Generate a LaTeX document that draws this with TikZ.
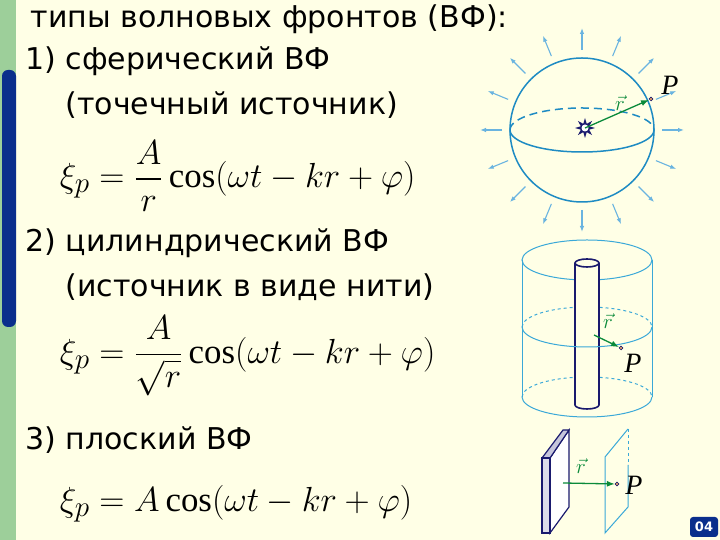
\documentclass[tikz,border=0pt]{standalone}
\usepackage{fontspec}
\usepackage{amsmath}
\setmainfont{DejaVu Sans}
\newfontfamily\pfont{Liberation Serif}[Scale=1]
\usetikzlibrary{arrows.meta,calc}
\definecolor{bg}{HTML}{FFFFE6}
\definecolor{strip}{HTML}{9DCF9A}
\definecolor{bar}{HTML}{0A2E8C}
\definecolor{sph}{HTML}{1E8BC3}
\definecolor{cyl}{HTML}{3AA8D8}
\definecolor{ray}{HTML}{6AB4E0}
\definecolor{grn}{HTML}{0A8A3A}
\definecolor{navy}{HTML}{1A1A6E}
\newcommand{\mycos}{\mathop{\text{\pfont cos}}\nolimits}
\tikzset{
 txt/.style={anchor=base west,font=\fontsize{30}{34}\selectfont},
 frm/.style={anchor=west,font=\fontsize{24.88}{28}\selectfont,scale=1.4,transform shape},
 lab/.style={font=\fontsize{28}{30}\selectfont\pfont\itshape},
 rlab/.style={text=grn,font=\fontsize{17.28}{20}\selectfont,scale=1.2,transform shape},
 arr/.style={grn,line width=1.3pt,-{Latex[length=8pt]}},
 pdot/.style={circle,draw=navy,fill=orange!60,inner sep=1.3pt,line width=0.6pt},
 sline/.style={sph,line width=1.5pt},
 cline/.style={cyl,line width=1pt},
}
\begin{document}
\begin{tikzpicture}[x=1pt,y=1pt]
\fill[bg] (0,0) rectangle (720,540);
\fill[strip] (0,0) rectangle (16,540);
\fill[bar,rounded corners=6pt] (2,213) rectangle (16,470);
% texts
\node[txt] (t0) at (27,512) {типы волновых фронтов (ВФ):};
\node[txt] (t1) at (22,470) {1) сферический ВФ};
\node[txt] (t2) at (62,425) {(точечный источник)};
\node[frm] (f1) at (55,364) {$\xi_p=\dfrac{A}{r}\mycos(\omega t-kr+\varphi)$};
\node[txt] (t3) at (22,288) {2) цилиндрический ВФ};
\node[txt] (t4) at (62,243) {(источник в виде нити)};
\node[frm] (f2) at (55,184) {$\xi_p=\dfrac{A}{\sqrt{r}}\mycos(\omega t-kr+\varphi)$};
\node[txt] (t5) at (22,90) {3) плоский ВФ};
\node[frm] (f3) at (55,36) {$\xi_p=A\mycos(\omega t-kr+\varphi)$};
% sphere
\coordinate (sc) at (582,410);
\foreach \a in {0,22.5,...,337.5}
  \draw[ray,line width=1.1pt,-{Latex[length=6pt]}] ($(sc)+(\a:80)$) -- ($(sc)+(\a:102)$);
\draw[sline] (sc) circle[radius=72];
\draw[sline] (510,410) arc[start angle=180,end angle=360,x radius=72,y radius=22];
\draw[sline,dash pattern=on 8pt off 5pt] (510,410) arc[start angle=180,end angle=0,x radius=72,y radius=22];
\coordinate (src) at (585,412);
\begin{scope}[shift={(585,412)}]
\fill[navy] plot[samples at={0,...,16}] (\x*22.5:{ifthenelse(mod(\x,2)==1,4.5,10)}) -- cycle;
\fill[white] (0,0) circle[radius=3.5];
\end{scope}
\node[pdot] (p1) at (651,441) {};
\draw[arr] (src) -- (p1);
\node[lab] (P1) at (670,455) {P};
\node[rlab] (r1) at (620,437) {$\vec r$};
% cylinder
\draw[cline] (587,280) ellipse[x radius=65,y radius=20];
\draw[cline] (522,280) -- (522,143);
\draw[cline] (652,280) -- (652,143);
\draw[cline,dashed] (522,213) arc[start angle=180,end angle=0,x radius=65,y radius=20];
\draw[cline,dashed] (522,143) arc[start angle=180,end angle=0,x radius=65,y radius=20];
\draw[navy,line width=1.6pt,fill=bg] (575,277) -- (575,135) arc[start angle=180,end angle=360,x radius=12,y radius=4] -- (599,277);
\draw[navy,line width=1.6pt,fill=bg] (587,277) ellipse[x radius=12,y radius=4];
\draw[cline] (522,213) arc[start angle=180,end angle=360,x radius=65,y radius=20];
\draw[cline] (522,143) arc[start angle=180,end angle=360,x radius=65,y radius=20];
\node[pdot] (p2) at (621,192) {};
\coordinate (c2) at (594,205);
\draw[arr] (c2) -- (p2);
\node[lab] (P2) at (633,177) {P};
\node[rlab] (r2) at (608,219) {$\vec r$};
% plane
\draw[navy,line width=1.2pt,fill=white] (550,82) -- (569,110) -- (569,33) -- (550,7) -- cycle;
\draw[navy,line width=1.2pt,fill=navy!25] (542,82) -- (563,110) -- (569,110) -- (550,82) -- cycle;
\draw[navy,line width=1.2pt,fill=navy!15] (542,82) -- (550,82) -- (550,7) -- (542,7) -- cycle;
\draw[cline] (628,75) -- (628,33) -- (605,7) -- (605,83) -- (628,111);
\draw[cline,dashed] (628,111) -- (628,75);
\node[pdot] (p3) at (617,56) {};
\coordinate (c3) at (563,57);
\draw[arr] (c3) -- (p3);
\node[lab] (P3) at (634,55) {P};
\node[rlab] (r3) at (581,74) {$\vec r$};
% badge
\node[fill=bar,rounded corners=3pt,text=white,font=\bfseries\fontsize{13}{14}\selectfont,inner sep=2pt,minimum width=28pt,minimum height=20pt] (b) at (704,13) {04};
\end{tikzpicture}
\end{document}
